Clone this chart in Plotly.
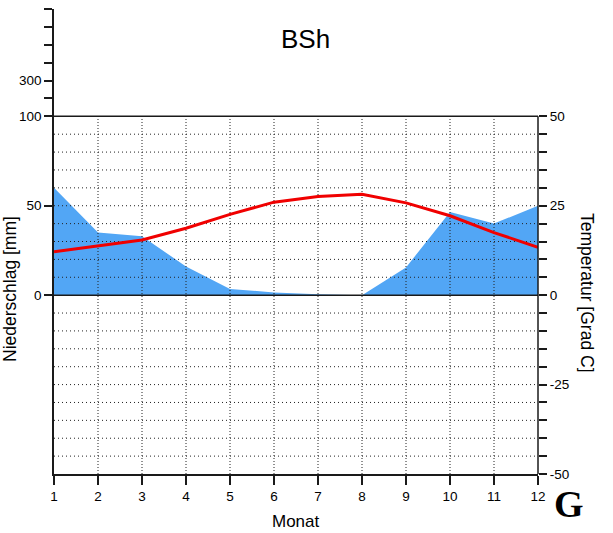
import plotly.graph_objects as go

# ---- data ----
months = list(range(1, 13))
precip_mm = [60, 35, 33, 16, 3.5, 1.5, 0.5, 0, 15.5, 46.5, 40, 50]
temp_c = [12.1, 13.8, 15.4, 18.7, 22.6, 26.0, 27.6, 28.2, 25.8, 22.2, 17.5, 13.4]
left_tick_mm = [0, 50, 100, 200, 300, 400, 500, 600, 700]
left_tick_labels = ["0", "50", "100", "", "300", "", "", "", ""]
right_tick_c = list(range(-50, 55, 5))
right_tick_labels = [str(v) if v % 25 == 0 else "" for v in right_tick_c]

title_text = "BSh"
x_title = "Monat"
y_title_left = "Niederschlag [mm]"
y_title_right = "Temperatur [Grad C]"

# ---- figure geometry ----
W, H = 613, 533
L, R, T, B = 54, 75, 9, 59
BLUE = "rgb(82,166,245)"
FONT = "Liberation Sans, Arial, sans-serif"
AX = "#1a1a1a"


def mm_scale(v):
    # Walter-Lieth: above 100 mm the scale is compressed by a factor of 10
    return v if v <= 100 else 100 + (v - 100) / 10.0


def px(xp, yp):
    pw, ph = W - L - R, H - T - B
    return (xp - L) / pw, (H - B - yp) / ph


fig = go.Figure()

# precipitation area
fig.add_trace(go.Scatter(
    x=months, y=precip_mm, mode="lines", fill="tozeroy",
    fillcolor=BLUE, line=dict(width=0, color=BLUE),
    hoverinfo="skip", showlegend=False, yaxis="y"))

# dotted grid (above the fill, below the temperature line)
hx, hy = [], []
for v in range(-90, 100, 10):
    if v == 0:
        continue
    hx += [1, 12, None]
    hy += [v, v, None]
vx, vy = [], []
for m in months[1:-1]:
    vx += [m, m, None]
    vy += [-100, 100, None]
fig.add_trace(go.Scatter(
    x=hx, y=hy, mode="lines", line=dict(color="#222", width=1, dash="1px,3px"),
    hoverinfo="skip", showlegend=False, yaxis="y"))
fig.add_trace(go.Scatter(
    x=vx, y=vy, mode="lines", line=dict(color="#222", width=1, dash="1px,2px"),
    hoverinfo="skip", showlegend=False, yaxis="y"))

# temperature
fig.add_trace(go.Scatter(
    x=months, y=temp_c, mode="lines", line=dict(color="rgb(240,0,0)", width=3),
    hoverinfo="skip", showlegend=False, yaxis="y2"))

shapes = [
    dict(type="line", xref="paper", yref="y", x0=0, x1=1, y0=100, y1=100,
         line=dict(color=AX, width=1.5)),
    dict(type="line", xref="paper", yref="y", x0=0, x1=1, y0=0, y1=0,
         line=dict(color=AX, width=1.5)),
    dict(type="line", xref="paper", yref="y", x0=1, x1=1, y0=-100, y1=100,
         line=dict(color=AX, width=1.5)),
]

annots = []
ax_, ay_ = px(305, 39)
annots.append(dict(text=title_text, x=ax_, y=ay_, xref="paper", yref="paper",
                   showarrow=False, xanchor="center", yanchor="middle",
                   font=dict(family=FONT, size=26, color="#000")))
ax_, ay_ = px(296, 521)
annots.append(dict(text=x_title, x=ax_, y=ay_, xref="paper", yref="paper",
                   showarrow=False, xanchor="center", yanchor="middle",
                   font=dict(family=FONT, size=17, color="#000")))
ax_, ay_ = px(569, 504)
annots.append(dict(text="<b>G</b>", x=ax_, y=ay_, xref="paper", yref="paper",
                   showarrow=False, xanchor="center", yanchor="middle",
                   font=dict(family="Liberation Serif, DejaVu Serif, serif", size=38, color="#000")))
ax_, ay_ = px(10, 289)
annots.append(dict(text=y_title_left, x=ax_, y=ay_, xref="paper", yref="paper",
                   showarrow=False, xanchor="center", yanchor="middle", textangle=-90,
                   font=dict(family=FONT, size=17.5, color="#000")))
ax_, ay_ = px(587, 293)
annots.append(dict(text=y_title_right, x=ax_, y=ay_, xref="paper", yref="paper",
                   showarrow=False, xanchor="center", yanchor="middle", textangle=90,
                   font=dict(family=FONT, size=17.5, color="#000")))

fig.update_layout(
    width=W, height=H,
    margin=dict(l=L, r=R, t=T, b=B, pad=0),
    paper_bgcolor="white", plot_bgcolor="white",
    showlegend=False,
    font=dict(family=FONT, size=13.5, color="#000"),
    xaxis=dict(range=[1, 12], tickvals=months, ticktext=[str(m) for m in months],
               ticks="outside", ticklen=9, tickwidth=1.5, tickcolor=AX,
               showline=True, linecolor=AX, linewidth=1.5,
               showgrid=False, zeroline=False, fixedrange=True),
    yaxis=dict(range=[-100, 160], tickvals=[mm_scale(v) for v in left_tick_mm],
               ticktext=left_tick_labels,
               ticks="outside", ticklen=8, tickwidth=1.5, tickcolor=AX,
               showline=True, linecolor=AX, linewidth=1.5,
               showgrid=False, zeroline=False, fixedrange=True),
    yaxis2=dict(range=[-50, 80], overlaying="y", side="right", anchor="x",
                tickvals=right_tick_c, ticktext=right_tick_labels,
                ticks="outside", ticklen=8, tickwidth=1.5, tickcolor=AX,
                showline=False, showgrid=False, zeroline=False, fixedrange=True),
    shapes=shapes,
    annotations=annots,
)

fig.write_html("out.html")
